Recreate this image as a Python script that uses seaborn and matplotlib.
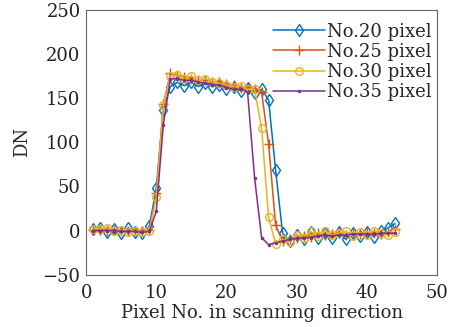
import numpy as np
import pandas as pd
import matplotlib
matplotlib.use("Agg")
import matplotlib.pyplot as plt
import seaborn as sns

pixels = list(range(1, 45))

no20 = [2, 3, -2, 2, -3, 3, -2, -3, 5, 48, 137, 163, 168, 164, 168, 163, 167, 163, 165, 160,
        163, 158, 161, 156, 160, 148, 68, -3, -12, -5, -10, -2, -8, -3, -8, -2, -10, -3, -6, -2,
        -7, -1, 3, 8]
no25 = [1, 1, 0, 1, -1, 0, -1, -1, 1, 42, 143, 178, 176, 174, 172, 170, 171, 168, 168, 166,
        165, 162, 163, 160, 157, 98, 6, -12, -10, -8, -6, -7, -3, -5, -4, -2, -5, -3, -4, -2,
        -3, -4, -2, 2]
no30 = [2, 2, 3, -1, 1, -2, 0, -2, 0, 38, 142, 175, 176, 172, 175, 170, 172, 168, 167, 165,
        163, 164, 160, 160, 116, 15, -15, -10, -13, -5, -8, -1, -6, 0, -5, -3, -1, -6, -2, -5,
        0, -3, -5, -2]
no35 = [0, 0, 0, 0, -1, -1, -1, -2, -1, 22, 120, 172, 172, 170, 170, 168, 167, 165, 165, 162,
        160, 160, 157, 60, -8, -16, -14, -12, -10, -9, -8, -8, -6, -5, -6, -5, -5, -4, -4, -4,
        -4, -3, -3, -3]

labels = ["No.20 pixel", "No.25 pixel", "No.30 pixel", "No.35 pixel"]
series = [no20, no25, no30, no35]
colors = ["#0072BD", "#D95319", "#EDB120", "#7E2F8E"]
markers = ["d", "+", "o", "."]
msizes = [6.5, 6.5, 5.5, 3]

xticks = [0, 10, 20, 30, 40, 50]
yticks = [-50, 0, 50, 100, 150, 200, 250]

sns.set_theme(style="white")
plt.rcParams["font.family"] = ["DejaVu Serif"]
plt.rcParams["mathtext.fontset"] = "dejavuserif"

fig = plt.figure(figsize=(4.51, 3.27), dpi=100)
ax = fig.add_axes([0.191, 0.16, 0.778, 0.81])

for lab, s, c, m, ms in zip(labels, series, colors, markers, msizes):
    df = pd.DataFrame({"x": pixels, "y": s})
    sns.lineplot(data=df, x="x", y="y", ax=ax, color=c, marker=m, markersize=ms,
                 markerfacecolor="none" if m in ("d", "o") else c,
                 markeredgecolor=c, markeredgewidth=1.0, linewidth=1.1, label=lab)

ax.set_xlim(0, 50)
ax.set_ylim(-50, 250)
ax.set_xticks(xticks)
ax.set_yticks(yticks)
ax.set_yticklabels(["\u221250" if t < 0 else str(t) for t in yticks])
ax.tick_params(direction="in", length=3, labelsize=13, colors="#222222", width=0.6)
ax.tick_params(axis="x", pad=7)
ax.tick_params(axis="y", pad=4)
ax.set_xlabel("Pixel No. in scanning direction", fontsize=13, labelpad=1)
ax.set_ylabel("DN", fontsize=13, labelpad=8)
for sp in ax.spines.values():
    sp.set_color("#666666")
    sp.set_linewidth(0.8)

leg = ax.legend(loc="upper right", bbox_to_anchor=(1.0, 0.972), frameon=False, fontsize=13,
                handlelength=2.9, handletextpad=0.1, labelspacing=0.12,
                borderaxespad=0.0, borderpad=0.3)

fig.savefig("out.png", dpi=100)
